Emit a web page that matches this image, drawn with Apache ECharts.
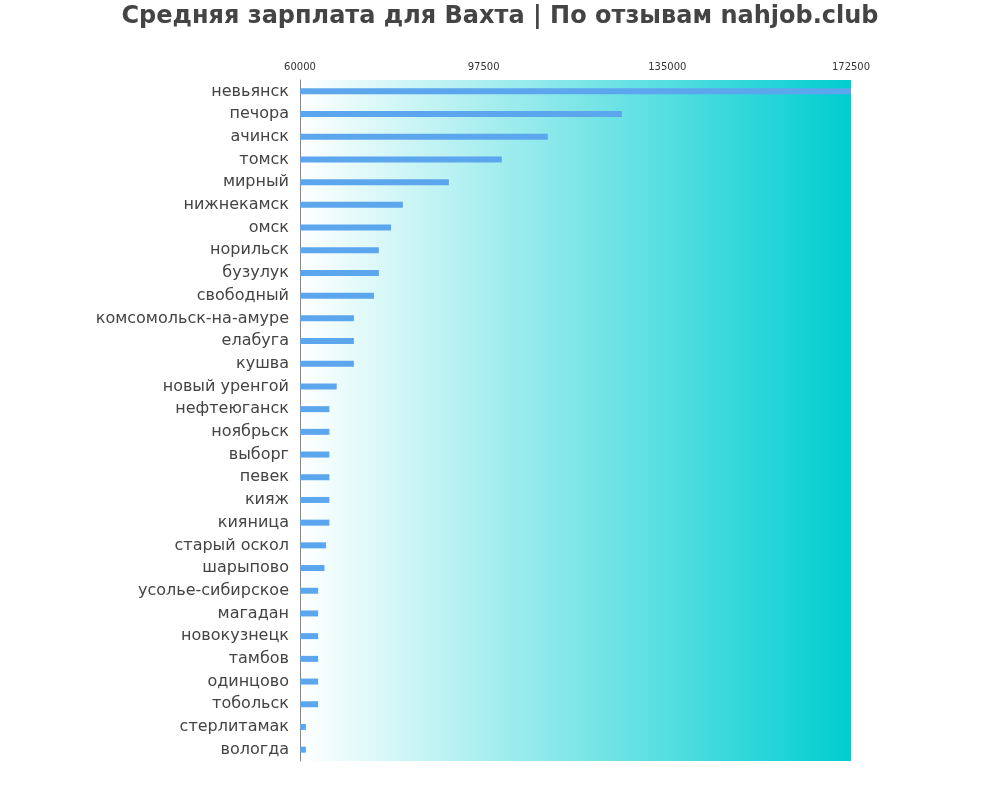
<!DOCTYPE html>
<html><head><meta charset="utf-8">
<script src="https://cdn.jsdelivr.net/npm/echarts@6/dist/echarts.min.js"></script>
<style>html,body{margin:0;padding:0;background:#fff}#c{width:1000px;height:800px}</style>
</head><body><div id="c"></div>
<script>
const categories = ["невьянск","печора","ачинск","томск","мирный","нижнекамск","омск","норильск","бузулук","свободный","комсомольск-на-амуре","елабуга","кушва","новый уренгой","нефтеюганск","ноябрьск","выборг","певек","кияж","кияница","старый оскол","шарыпово","усолье-сибирское","магадан","новокузнецк","тамбов","одинцово","тобольск","стерлитамак","вологда"];
const salaries = [172500,125700,110600,101200,90400,81000,78600,76100,76100,75100,71000,71000,71000,67500,66000,66000,66000,66000,66000,66000,65300,65000,63700,63700,63700,63700,63700,63700,61200,61200];
const tickOffset = 60000;
const tickStep = 37500;

const chart = echarts.init(document.getElementById('c'));
chart.setOption({
  animation:false,
  title:{text:'Средняя зарплата для Вахта | По отзывам nahjob.club',left:'center',top:0,
    textStyle:{fontFamily:'DejaVu Sans',fontSize:24,fontWeight:'bold',color:'#444'}},
  grid:{left:300,top:80,width:551,height:681,show:true,borderWidth:0,
    backgroundColor:{type:'linear',x:0,y:0,x2:1,y2:0,colorStops:[{offset:0,color:'#ffffff'},{offset:1,color:'#00cdd0'}]}},
  xAxis:[
    {type:'value',min:60000,max:172500,show:false},
    {type:'value',position:'top',min:0,max:112500,interval:tickStep,
      axisLine:{show:false},axisTick:{show:false},splitLine:{show:false},
      axisLabel:{fontSize:10,color:'#333',fontFamily:'DejaVu Sans',margin:8,formatter:v=>String(v+tickOffset)}}
  ],
  yAxis:{type:'category',data:categories,inverse:true,
    axisLine:{show:true,lineStyle:{color:'#888'}},axisTick:{show:false},
    axisLabel:{fontSize:16,color:'#444',fontFamily:'DejaVu Sans',margin:11,verticalAlign:'middle',padding:[0,0,6,0]}},
  series:[{type:'bar',xAxisIndex:0,data:salaries,barWidth:6,itemStyle:{color:'#5ca6ee'}}]
});
</script></body></html>
